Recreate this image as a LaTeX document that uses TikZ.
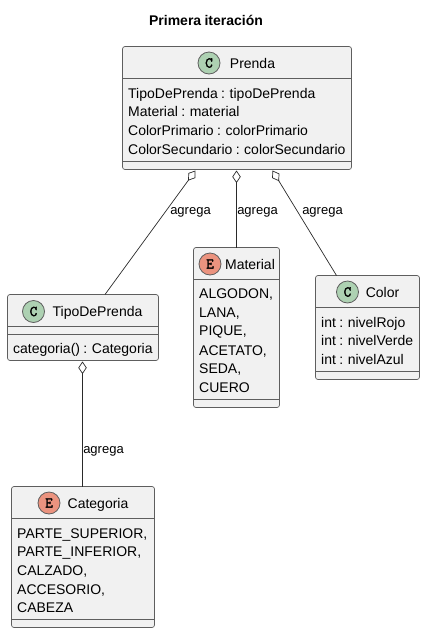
\documentclass[tikz,border=0pt]{standalone}
\usepackage{fontspec}
\setmainfont[WordSpace=0.85]{Liberation Sans}
\newfontfamily\glyphfont[FakeBold=2.2]{Latin Modern Mono}
\usetikzlibrary{arrows.meta,calc}
\definecolor{boxfill}{HTML}{F1F1F1}
\definecolor{boxline}{HTML}{5E5E5E}
\definecolor{edgeline}{HTML}{2A2A2A}
\definecolor{classc}{HTML}{ADD1B2}
\definecolor{enumc}{HTML}{EB937F}
\tikzset{
  umlbox/.style={draw=boxline,line width=0.7pt,fill=boxfill,rounded corners=2.5pt,anchor=north west,inner sep=0pt,outer sep=0pt},
  sepline/.style={draw=boxline,line width=0.7pt},
  badge/.style={circle,draw=boxline,line width=0.8pt,minimum size=22pt,inner sep=0pt,font=\glyphfont\fontsize{15}{15}\selectfont},
  classbadge/.style={badge,fill=classc},
  enumbadge/.style={badge,fill=enumc},
  boxname/.style={anchor=base,inner sep=0pt,font=\fontsize{14}{16}\selectfont},
  member/.style={anchor=base west,inner sep=0pt,font=\fontsize{14}{16}\selectfont},
  edgelabel/.style={anchor=base,inner sep=0pt,font=\fontsize{13}{15}\selectfont},
  aggreg/.style={draw=edgeline,line width=0.7pt,{Diamond[open,length=12.5pt,width=8.5pt,line width=0.7pt]}-},
}
\begin{document}
\begin{tikzpicture}[x=1pt,y=-1pt]
\useasboundingbox (0,0) rectangle (425,633);
\node[anchor=base,inner sep=0pt,font=\bfseries\fontsize{14}{16}\selectfont] (title) at (206,25) {Primera iteración};

% Prenda
\node[umlbox,minimum width=229pt,minimum height=123pt] (prenda) at (122.5,46.5) {};
\draw[sepline] ([yshift=-32pt]prenda.north west) -- ([yshift=-32pt]prenda.north east);
\draw[sepline] ([yshift=8pt]prenda.south west) -- ([yshift=8pt]prenda.south east);
\node[classbadge] (prendaC) at (209,63) {C};
\node[boxname] (prendaN) at (252.5,68) {Prenda};
\node[member] (p1) at (128,98) {TipoDePrenda : tipoDePrenda};
\node[member] (p2) at (128,116.5) {Material : material};
\node[member] (p3) at (128,135) {ColorPrimario : colorPrimario};
\node[member] (p4) at (128,154) {ColorSecundario : colorSecundario};

% TipoDePrenda
\node[umlbox,minimum width=151pt,minimum height=66pt] (tipo) at (7.5,294.5) {};
\draw[sepline] ([yshift=-32pt]tipo.north west) -- ([yshift=-32pt]tipo.north east);
\draw[sepline] ([yshift=-40pt]tipo.north west) -- ([yshift=-40pt]tipo.north east);
\node[classbadge] (tipoC) at (33.5,311.5) {C};
\node[boxname] (tipoN) at (97.5,316.5) {TipoDePrenda};
\node[member] (t1) at (13,353) {categoria() : Categoria};

% Material
\node[umlbox,minimum width=86pt,minimum height=160pt] (material) at (193.5,247.5) {};
\draw[sepline] ([yshift=-32pt]material.north west) -- ([yshift=-32pt]material.north east);
\draw[sepline] ([yshift=8pt]material.south west) -- ([yshift=8pt]material.south east);
\node[enumbadge] (materialE) at (210,264) {E};
\node[boxname] (materialN) at (250,269) {Material};
\node[member] (m1) at (199,298.5) {ALGODON,};
\node[member] (m2) at (199,317) {LANA,};
\node[member] (m3) at (199,335.5) {PIQUE,};
\node[member] (m4) at (199,355) {ACETATO,};
\node[member] (m5) at (199,373.5) {SEDA,};
\node[member] (m6) at (199,392) {CUERO};

% Color
\node[umlbox,minimum width=104pt,minimum height=104pt] (color) at (315.5,275.5) {};
\draw[sepline] ([yshift=-32pt]color.north west) -- ([yshift=-32pt]color.north east);
\draw[sepline] ([yshift=8pt]color.south west) -- ([yshift=8pt]color.south east);
\node[classbadge] (colorC) at (347.5,292) {C};
\node[boxname] (colorN) at (382.5,297) {Color};
\node[member] (c1) at (321,327) {int : nivelRojo};
\node[member] (c2) at (321,345) {int : nivelVerde};
\node[member] (c3) at (321,364) {int : nivelAzul};

% Categoria
\node[umlbox,minimum width=143pt,minimum height=141pt] (categoria) at (11.5,486.5) {};
\draw[sepline] ([yshift=-32pt]categoria.north west) -- ([yshift=-32pt]categoria.north east);
\draw[sepline] ([yshift=8pt]categoria.south west) -- ([yshift=8pt]categoria.south east);
\node[enumbadge] (categoriaE) at (49,503) {E};
\node[boxname] (categoriaN) at (98,508) {Categoria};
\node[member] (k1) at (17,538) {PARTE\_SUPERIOR,};
\node[member] (k2) at (17,556) {PARTE\_INFERIOR,};
\node[member] (k3) at (17,575) {CALZADO,};
\node[member] (k4) at (17,594) {ACCESORIO,};
\node[member] (k5) at (17,612) {CABEZA};

% Connectors
\draw[aggreg] ([xshift=73pt,yshift=-1pt]prenda.south west) -- ([xshift=97.5pt]tipo.north west);
\draw[aggreg] ([xshift=114pt,yshift=-1pt]prenda.south west) -- ([xshift=43pt]material.north west);
\draw[aggreg] ([xshift=150pt,yshift=-1pt]prenda.south west) -- ([xshift=21pt]color.north west);
\draw[aggreg] ([xshift=75pt,yshift=-1pt]tipo.south west) -- ([xshift=71pt]categoria.north west);

\node[edgelabel] (l1) at (190.5,214.5) {agrega};
\node[edgelabel] (l2) at (257.5,214.5) {agrega};
\node[edgelabel] (l3) at (322.5,214.5) {agrega};
\node[edgelabel] (l4) at (103.5,453.5) {agrega};
\end{tikzpicture}
\end{document}
